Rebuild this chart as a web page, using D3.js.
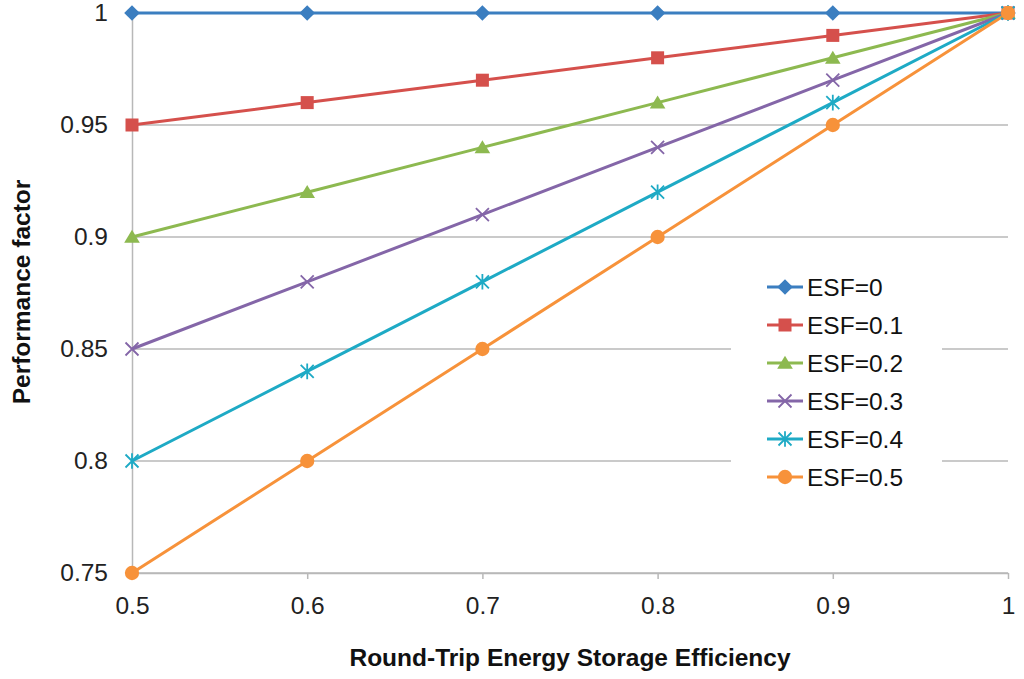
<html>
<head>
<script src="https://cdn.jsdelivr.net/npm/d3@7"></script>
<style>
  body { margin: 0; background: #fff; }
  svg { font-family: "Liberation Sans", Arial, sans-serif; }
</style>
</head>
<body>
<svg id="chart" width="1024" height="679"></svg>
<script>
  let efficiency = [0.5, 0.6, 0.7, 0.8, 0.9, 1]
  let seriesNames = ["ESF=0", "ESF=0.1", "ESF=0.2", "ESF=0.3", "ESF=0.4", "ESF=0.5"]
  let esf0 = [1, 1, 1, 1, 1, 1]
  let esf01 = [0.95, 0.96, 0.97, 0.98, 0.99, 1]
  let esf02 = [0.90, 0.92, 0.94, 0.96, 0.98, 1]
  let esf03 = [0.85, 0.88, 0.91, 0.94, 0.97, 1]
  let esf04 = [0.80, 0.84, 0.88, 0.92, 0.96, 1]
  let esf05 = [0.75, 0.80, 0.85, 0.90, 0.95, 1]
  let xTicks = [0.5, 0.6, 0.7, 0.8, 0.9, 1]
  let yTicks = [0.75, 0.8, 0.85, 0.9, 0.95, 1]

  let colors = ["#3b7ec0", "#d5504c", "#8db950", "#8466a8", "#1eaac5", "#f7923a"]
  let markers = ["diamond", "square", "triangle", "cross", "star", "circle"]

  let series = [esf0, esf01, esf02, esf03, esf04, esf05].map((vals, i) => ({
    name: seriesNames[i],
    color: colors[i],
    marker: markers[i],
    points: vals.map((v, j) => ({ x: efficiency[j], y: v }))
  }))

  let margin = { left: 132, right: 16, top: 13, bottom: 106 }
  let width = 1024, height = 679
  let svg = d3.select("#chart")

  let xScale = d3.scaleLinear().domain([0.5, 1]).range([margin.left, width - margin.right])
  let yScale = d3.scaleLinear().domain([0.75, 1]).range([height - margin.bottom, margin.top])

  // gridlines
  svg.append("g")
     .selectAll("line")
     .data(yTicks)
     .enter()
     .append("line")
       .attr("x1", margin.left)
       .attr("x2", width - margin.right)
       .attr("y1", d => yScale(d))
       .attr("y2", d => yScale(d))
       .attr("stroke", "#b8b8b8")
       .attr("stroke-width", 1.5)

  // y axis
  let yAxis = d3.axisLeft(yScale).tickValues(yTicks).tickSize(0).tickPadding(24)
     .tickFormat(d3.format("~g"))
  let yg = svg.append("g")
     .attr("transform", `translate(${margin.left},0)`)
     .call(yAxis)
  yg.select(".domain").attr("stroke", "#b8b8b8").attr("stroke-width", 1.5)
  yg.selectAll("text").attr("font-size", 24.5).attr("fill", "#222")
    .attr("font-family", "Liberation Sans, Arial, sans-serif")

  // x axis
  let xAxis = d3.axisBottom(xScale).tickValues(xTicks).tickSizeInner(6).tickSizeOuter(0)
     .tickPadding(18).tickFormat(d3.format("~g"))
  let xg = svg.append("g")
     .attr("transform", `translate(0,${height - margin.bottom})`)
     .call(xAxis)
  xg.select(".domain").attr("stroke", "#b8b8b8").attr("stroke-width", 1.5)
  xg.selectAll("line").attr("stroke", "#b8b8b8").attr("stroke-width", 1.5)
  xg.selectAll("text").attr("font-size", 24.5).attr("fill", "#222")
    .attr("font-family", "Liberation Sans, Arial, sans-serif")

  // axis titles
  svg.append("text")
     .attr("x", 570).attr("y", 666)
     .attr("text-anchor", "middle")
     .attr("font-size", 24.5).attr("font-weight", "bold").attr("fill", "#111")
     .text("Round-Trip Energy Storage Efficiency")
  svg.append("text")
     .attr("transform", "translate(30,292) rotate(-90)")
     .attr("text-anchor", "middle")
     .attr("font-size", 24.5).attr("font-weight", "bold").attr("fill", "#111")
     .text("Performance factor")

  function drawMarker(g, type, color, size) {
    let s = size
    if (type === "diamond") {
      g.append("path").attr("d", `M0,${-s*0.6}L${s*0.6},0L0,${s*0.6}L${-s*0.6},0Z`).attr("fill", color)
    } else if (type === "square") {
      g.append("rect").attr("x", -s/2).attr("y", -s/2).attr("width", s).attr("height", s).attr("fill", color)
    } else if (type === "triangle") {
      g.append("path").attr("d", `M0,${-s*0.55}L${s*0.6},${s*0.45}L${-s*0.6},${s*0.45}Z`).attr("fill", color)
    } else if (type === "cross") {
      let h = s*0.5
      g.append("path").attr("d", `M${-h},${-h}L${h},${h}M${-h},${h}L${h},${-h}`)
       .attr("stroke", color).attr("stroke-width", 1.8).attr("fill", "none")
    } else if (type === "star") {
      let h = s*0.5
      g.append("path").attr("d", `M${-h},${-h}L${h},${h}M${-h},${h}L${h},${-h}M0,${-h*1.2}L0,${h*1.2}`)
       .attr("stroke", color).attr("stroke-width", 1.8).attr("fill", "none")
    } else if (type === "circle") {
      g.append("circle").attr("r", s*0.55).attr("fill", color)
    }
  }

  let line = d3.line().x(d => xScale(d.x)).y(d => yScale(d.y))

  series.forEach(s => {
    svg.append("path")
       .datum(s.points)
       .attr("d", line)
       .attr("fill", "none")
       .attr("stroke", s.color)
       .attr("stroke-width", 3)
  })
  series.forEach(s => {
    s.points.forEach(p => {
      let g = svg.append("g").attr("transform", `translate(${xScale(p.x)},${yScale(p.y)})`)
      drawMarker(g, s.marker, s.color, 13)
    })
  })

  // legend
  let legend = svg.append("g")
  legend.append("rect")
     .attr("x", 731).attr("y", 265).attr("width", 211).attr("height", 232)
     .attr("fill", "#fff")
  series.forEach((s, i) => {
    let y = 287 + i * 38
    let g = legend.append("g").attr("transform", `translate(767,${y})`)
    g.append("line").attr("x1", 0).attr("x2", 36).attr("y1", 0).attr("y2", 0)
     .attr("stroke", s.color).attr("stroke-width", 3)
    let m = g.append("g").attr("transform", "translate(18,0)")
    drawMarker(m, s.marker, s.color, 13)
    g.append("text")
     .attr("x", 40).attr("y", 9)
     .attr("font-size", 24.5).attr("fill", "#111")
     .text(s.name)
  })
</script>
</body>
</html>
